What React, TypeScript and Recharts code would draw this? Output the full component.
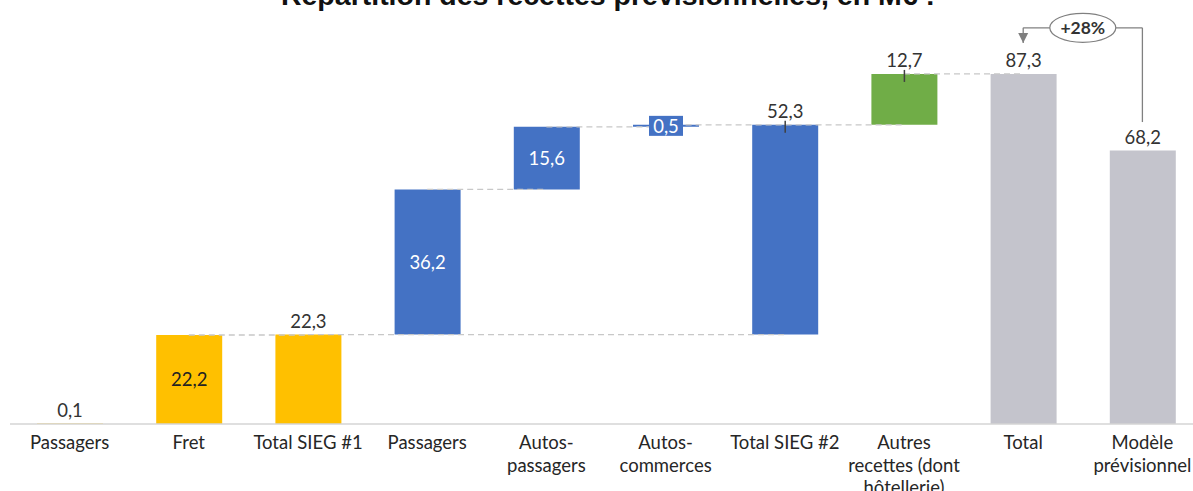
import React from "react";
import { ComposedChart, Bar, XAxis, YAxis, Cell, LabelList, ReferenceLine } from "recharts";

// catégories (ids uniques, "Passagers" apparaît deux fois)
const ids = ["passagers1", "fret", "sieg1", "passagers2", "autosPass", "autosComm", "sieg2", "autres", "total", "modele"];
const tickLabels = [
  ["Passagers"],
  ["Fret"],
  ["Total SIEG #1"],
  ["Passagers"],
  ["Autos-", "passagers"],
  ["Autos-", "commerces"],
  ["Total SIEG #2"],
  ["Autres", "recettes (dont", "hôtellerie)"],
  ["Total"],
  ["Modèle", "prévisionnel"],
];
const bases = [0, 0, 0, 22.3, 58.5, 74.1, 22.3, 74.6, 0, 0];
const values = [0.1, 22.2, 22.3, 36.2, 15.6, 0.5, 52.3, 12.7, 87.3, 68.2];

// niveaux des pointillés entre barres
const connectors = [
  { from: "fret", to: "sieg1", level: 22.2 },
  { from: "sieg1", to: "sieg2", level: 22.3 },
  { from: "passagers2", to: "autosPass", level: 58.5 },
  { from: "autosPass", to: "autosComm", level: 74.1 },
  { from: "autosComm", to: "autres", level: 74.6 },
  { from: "autres", to: "total", level: 87.3 },
];

// flèche +28% entre Total et Modèle prévisionnel
const growthLabel = "+28%";
const arrowLevel = 98.8;
const arrowTip = 95.0;
const arrowFoot = 75.3;

const title = "Répartition des recettes prévisionnelles, en M€ :";

const colors = ["#FFC000", "#FFC000", "#FFC000", "#4472C4", "#4472C4", "#4472C4", "#4472C4", "#70AD47", "#C4C4CC", "#C4C4CC"];
const labelModes = ["above", "inside", "above", "insideWhite", "insideWhite", "box", "above", "above", "above", "above"];
const leaders = [false, false, false, false, false, false, true, true, false, false];

const FONT = "Lato, 'Open Sans', sans-serif";
const fmt = (v: number) => v.toFixed(1).replace(".", ",");

const data = ids.map((id, i) => ({ id, base: bases[i], value: values[i] }));

const ValueLabel = (props: any) => {
  const { x, y, width, height, index } = props;
  const cx = x + width / 2;
  const mode = labelModes[index];
  const text = fmt(values[index]);
  if (mode === "above") {
    return (
      <g>
        <text x={cx} y={y - 14} textAnchor="middle" dominantBaseline="central" fontFamily={FONT} fontSize={18.5} fill="#333">
          {text}
        </text>
        {leaders[index] && <line x1={cx} x2={cx} y1={y - 4} y2={y + 8} stroke="#404040" strokeWidth={1.5} />}
      </g>
    );
  }
  if (mode === "box") {
    const cy = y + height / 2;
    return (
      <g>
        <rect x={cx - 17} y={cy - 10} width={34} height={20} fill="#4472C4" />
        <text x={cx} y={cy} textAnchor="middle" dominantBaseline="central" fontFamily={FONT} fontSize={18.5} fill="#fff">
          {text}
        </text>
      </g>
    );
  }
  return (
    <text
      x={cx}
      y={y + height / 2}
      textAnchor="middle"
      dominantBaseline="central"
      fontFamily={FONT}
      fontSize={18.5}
      fill={mode === "insideWhite" ? "#fff" : "#222"}
    >
      {text}
    </text>
  );
};

const Tick = (props: any) => {
  const { x, y, payload } = props;
  const lines = tickLabels[ids.indexOf(payload.value)] || [];
  return (
    <text x={x} y={y + 17} textAnchor="middle" fontFamily={FONT} fontSize={18.5} fill="#262626">
      {lines.map((l, i) => (
        <tspan key={i} x={x} dy={i === 0 ? 0 : 22.5}>
          {l}
        </tspan>
      ))}
    </text>
  );
};

const EllipseLabel = (props: any) => {
  const { viewBox } = props;
  const cx = viewBox.x + viewBox.width / 2;
  const cy = viewBox.y + viewBox.height / 2;
  return (
    <g>
      <ellipse cx={cx} cy={cy} rx={33} ry={14.5} fill="#fff" stroke="#808080" strokeWidth={1.2} />
      <text x={cx} y={cy} textAnchor="middle" dominantBaseline="central" fontFamily={FONT} fontWeight={700} fontSize={17.5} fill="#333">
        {growthLabel}
      </text>
    </g>
  );
};

const ArrowHead = (props: any) => {
  const { viewBox } = props;
  const tipY = viewBox.y + viewBox.height;
  const cx = viewBox.x;
  return <path d={`M${cx - 5},${tipY - 10} L${cx + 5},${tipY - 10} L${cx},${tipY} Z`} fill="#7f7f7f" />;
};

export default function App() {
  return (
    <div style={{ position: "absolute", left: 0, top: 0, width: 1193, height: 491, overflow: "hidden", background: "#fff" }}>
      <ComposedChart width={1210} height={491} data={data} margin={{ top: 23, right: 8, bottom: 0, left: 10 }}>
        <YAxis hide domain={[0, 100]} allowDataOverflow />
        <XAxis
          dataKey="id"
          interval={0}
          height={67}
          tickLine={false}
          axisLine={{ stroke: "#d4d4d4", strokeWidth: 1.5 }}
          tick={<Tick />}
        />
        {connectors.map((c, i) => (
          <ReferenceLine
            key={i}
            segment={[
              { x: c.from, y: c.level },
              { x: c.to, y: c.level },
            ]}
            stroke="#c8c8c8"
            strokeWidth={1.3}
            strokeDasharray="6 4"
          />
        ))}
        <Bar dataKey="base" stackId="w" fill="transparent" isAnimationActive={false} barSize={66} />
        <Bar dataKey="value" stackId="w" isAnimationActive={false} barSize={66}>
          {data.map((d, i) => (
            <Cell key={d.id} fill={colors[i]} />
          ))}
          <LabelList dataKey="value" content={<ValueLabel />} />
        </Bar>
        <ReferenceLine
          segment={[
            { x: "total", y: arrowLevel },
            { x: "modele", y: arrowLevel },
          ]}
          stroke="#808080"
          strokeWidth={1.3}
          label={<EllipseLabel />}
        />
        <ReferenceLine
          segment={[
            { x: "total", y: arrowLevel },
            { x: "total", y: arrowTip },
          ]}
          stroke="#808080"
          strokeWidth={1.3}
          label={<ArrowHead />}
        />
        <ReferenceLine
          segment={[
            { x: "modele", y: arrowLevel },
            { x: "modele", y: arrowFoot },
          ]}
          stroke="#808080"
          strokeWidth={1.3}
        />
      </ComposedChart>
      <svg width={1193} height={20} style={{ position: "absolute", left: 0, top: 0, pointerEvents: "none" }}>
        <text
          x={608}
          y={5}
          textAnchor="middle"
          fontFamily="'Liberation Sans', Arial, sans-serif"
          fontWeight={700}
          fontSize={28.5}
          fill="#111"
        >
          {title}
        </text>
      </svg>
    </div>
  );
}
